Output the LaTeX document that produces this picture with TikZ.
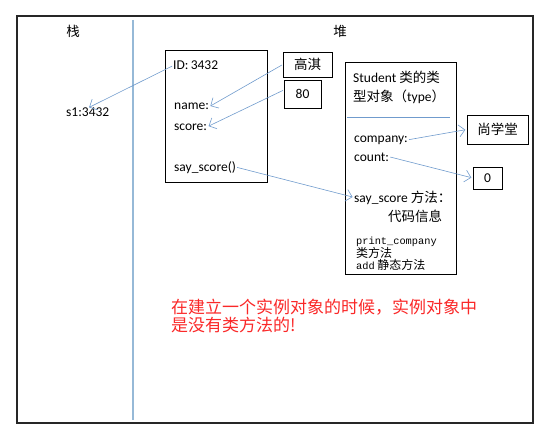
\documentclass[tikz,border=0pt]{standalone}
\usepackage{fontspec}
\setmainfont{Carlito}
\newfontfamily\cjk{Noto Sans CJK SC}
\newfontfamily\cjkmono{Liberation Mono}[Scale=0.86]
\usetikzlibrary{arrows.meta}

\definecolor{linkblue}{RGB}{112,155,205}
\definecolor{wallblue}{RGB}{150,185,215}
\definecolor{notered}{RGB}{250,40,40}

\begin{document}
\begin{tikzpicture}[x=1pt,y=-1pt,
    every node/.style={inner sep=0pt,font=\fontsize{13.5}{15}\selectfont},
    cell/.style={draw=black,thin},
    link/.style={-{Straight Barb[length=6pt,width=12pt]},linkblue,line width=0.6pt,shorten >=1.5pt,shorten <=1pt}]
  \useasboundingbox (0,0) rectangle (541,436);
  \draw[line width=1.3pt,black!85] (17,16) rectangle (533,423);
  \draw[wallblue,line width=1.1pt] (133,20) -- (133,420);
  \node at (73,31) (stack) {\cjk 栈};
  \node at (340,31) (heap) {\cjk 堆};
  \node[anchor=base west] at (66,117) (s1) {s1:3432};
  % instance object
  \draw[thin] (165,50) rectangle (267,182);
  \node[anchor=base west] at (173,70) (id) {ID:\,3432};
  \node[anchor=base west] at (174,110) (name) {name:};
  \node[anchor=base west] at (174,130) (score) {score:};
  \node[anchor=base west] at (174,171) (say) {say\_score()};
  \node[cell,minimum width=49pt,minimum height=25pt] at (307.5,64.5) (gaoqi) {\cjk 高淇};
  \node[cell,minimum width=37pt,minimum height=28pt] at (302.5,94) (eighty) {80};
  % type object
  \draw[thin] (345,62) rectangle (456,274);
  \draw[linkblue] (347,117) -- (450,117);
  \node[anchor=base west] at (353,83) (cls1) {Student {\cjk 类的类}};
  \node[anchor=base west] at (353,102) (cls2) {{\cjk 型对象（}type{\cjk ）}};
  \node[anchor=base west] at (354,142) (company) {company:};
  \node[anchor=base west] at (354,161) (count) {count:};
  \node[anchor=base west] at (354,202) (saym) {say\_score {\cjk 方法：}};
  \node[anchor=base west] at (388,221) (code) {\cjk 代码信息};
  \node[anchor=base west,font=\fontsize{12}{12.5}\selectfont] at (356,244) (pc) {\cjkmono print\_company};
  \node[anchor=base west,font=\fontsize{12}{12.5}\selectfont] at (356,257) (clsm) {\cjk 类方法};
  \node[anchor=base west,font=\fontsize{12}{12.5}\selectfont] at (356,269) (stm) {{\cjkmono add}\ {\cjk 静态方法}};
  \node[cell,minimum width=61pt,minimum height=29pt] at (497.5,129.5) (sxt) {\cjk 尚学堂};
  \node[cell,minimum width=29pt,minimum height=22pt] at (487.5,178) (zero) {0};
  % references
  \draw[link] (id.west) -- (s1.north);
  \draw[link] (gaoqi.west) -- (name.east);
  \draw[link] ([yshift=4pt]eighty.west) -- (score.east);
  \draw[link] (say.east) -- (saym.west);
  \draw[link] (company.east) -- (sxt.west);
  \draw[link] (count.east) -- (zero.west);
  \node[anchor=north west,align=left,text=notered,font=\cjk\fontsize{17}{18}\selectfont] at (171,299) (note)
    {在建立一个实例对象的时候，实例对象中\\是没有类方法的!};
\end{tikzpicture}
\end{document}
